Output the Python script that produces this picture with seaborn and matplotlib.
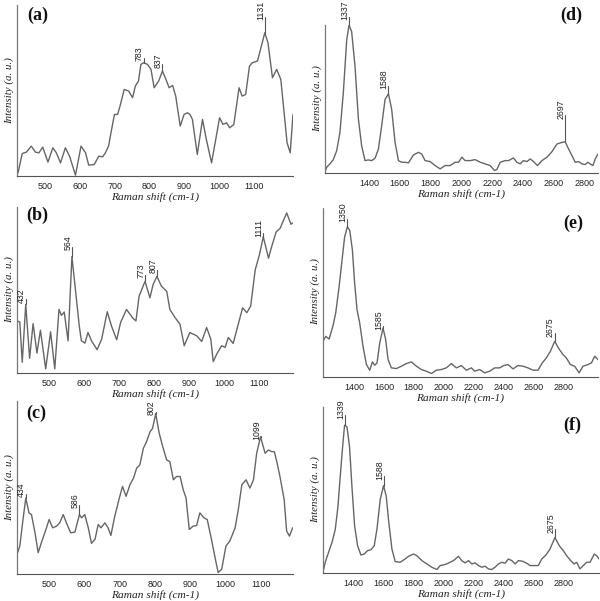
import matplotlib
matplotlib.use("Agg")
import matplotlib.pyplot as plt
import seaborn as sns
import numpy as np

# ---------------- data ----------------
# (a)
a_x = [422, 434, 446, 460, 472, 482, 493, 508, 522, 532, 544, 558, 570, 587, 603, 616, 625, 641, 654, 665,
       673, 682, 689, 699, 708, 715, 727, 740, 751, 759, 768, 775, 783, 794, 804, 813, 826, 837, 847, 856,
       866, 875, 888, 899, 909, 916, 923, 937, 952, 963, 978, 990, 1001, 1011, 1021, 1030, 1042, 1057, 1066, 1076,
       1087, 1095, 1110, 1131, 1140, 1153, 1165, 1177, 1195, 1204, 1212]
a_y = [1.4, 13, 13.8, 17.4, 13.8, 13.4, 16.8, 7.8, 16.4, 13.4, 7.4, 16.4, 11.4, 0, 17.4, 13.4, 6, 6.4, 11.4, 11,
       13.4, 17.4, 25.4, 36.4, 36.4, 41.4, 51.4, 50.4, 46.4, 53.4, 56.4, 66.4, 67.4, 66.4, 63.4, 52.4, 56.4, 62.4, 57.4, 52.4,
       53.8, 47.4, 29.4, 36.4, 37.4, 36.4, 33.4, 12.4, 33.4, 21.4, 7.4, 21.4, 34.4, 30.4, 31.4, 28.4, 30.4, 52.4, 47.4, 48.4,
       65.4, 67.4, 68.4, 85.4, 79.4, 58.4, 63.4, 57.4, 19.4, 13.4, 36.4]
a_peaks = [783, 837, 1131]
a_peak_tops = [70.4, 66.4, 95]
a_labels = ["783", "837", "1131"]

# (b)
b_x = [407, 415, 422, 432, 443, 453, 464, 474, 489, 503, 515, 527, 534, 542, 553, 564, 577, 585, 591, 601,
       610, 620, 636, 649, 665, 677, 692, 703, 720, 737, 747, 756, 773, 787, 796, 807, 820, 835, 844, 859,
       873, 885, 901, 921, 935, 949, 961, 968, 978, 992, 1002, 1011, 1025, 1037, 1052, 1064, 1075, 1088, 1100, 1111,
       1126, 1135, 1148, 1159, 1169, 1178, 1190, 1196]
b_y = [31, 30.4, 6, 41, 8.4, 29.4, 11.6, 25.4, 2, 24.4, 2, 38, 34.4, 36.4, 19, 70, 44, 28, 19, 17.6,
       24, 19, 13.6, 20, 36.6, 28, 19.6, 30, 38, 33, 31, 46, 55, 45, 53, 58, 52, 49, 38, 33,
       29, 16, 24, 22, 18.6, 27, 20, 6.4, 11, 16, 15, 21, 17.4, 27, 39, 36, 40, 62, 71, 82,
       69, 76, 85, 87, 92, 96.4, 89.6, 90.4]
b_peaks = [432, 564, 773, 807, 1111]
b_peak_tops = [44, 76, 59, 62, 84]
b_labels = ["432", "564", "773", "807", "1111"]

# (c)
c_x = [409, 417, 426, 434, 443, 450, 460, 469, 478, 491, 500, 510, 521, 530, 540, 549, 561, 573, 586, 592,
       601, 611, 620, 630, 639, 647, 658, 667, 675, 686, 699, 708, 718, 729, 739, 748, 757, 767, 776, 786,
       793, 802, 812, 822, 833, 842, 852, 861, 871, 880, 888, 897, 908, 918, 927, 939, 948, 960, 973, 979,
       989, 1001, 1012, 1027, 1036, 1046, 1058, 1069, 1079, 1088, 1099, 1112, 1121, 1131, 1138, 1145, 1154, 1166, 1173, 1181,
       1190]
c_y = [11.4, 16.4, 32.4, 45.4, 36.4, 35.4, 24.4, 12.4, 18.4, 26.4, 32.4, 27.4, 28.4, 30.4, 35.4, 30.4, 24.4, 24.8, 35.4, 33.4,
       35.4, 27.4, 18, 20.4, 29.4, 27.4, 30.4, 27.4, 22.8, 34.4, 45.4, 52.4, 46.4, 53.4, 57.4, 63.4, 65.4, 75.4, 79.4, 85.4,
       87.4, 96.4, 84.4, 76.4, 68.4, 67.4, 56.4, 58.4, 58.4, 50.4, 45.4, 26.4, 28.4, 28.8, 36.4, 33.4, 32.4, 20.4, 6.4, 0.4,
       2.4, 16.4, 19.4, 27.4, 38.4, 53.4, 56.4, 51.4, 56.4, 72.4, 82.4, 72.4, 74.4, 73.4, 73.4, 67.4, 58.4, 44.4, 25.4, 22.4,
       27.4]
c_peaks = [434, 586, 802, 1099]
c_peak_tops = [48, 41.4, 97.4, 82.8]
c_labels = ["434", "586", "802", "1099"]

# (d)
d_x = [1114, 1125, 1146, 1168, 1190, 1211, 1233, 1255, 1270, 1287, 1309, 1331, 1352, 1374, 1396, 1417, 1439, 1461, 1482, 1504,
       1526, 1547, 1569, 1591, 1612, 1634, 1656, 1688, 1721, 1742, 1764, 1797, 1829, 1862, 1894, 1927, 1959, 1981, 2003, 2024,
       2057, 2089, 2122, 2154, 2187, 2215, 2230, 2252, 2284, 2306, 2338, 2360, 2382, 2403, 2425, 2447, 2468, 2494, 2523, 2555,
       2588, 2620, 2653, 2674, 2696, 2718, 2739, 2761, 2783, 2804, 2820, 2836, 2854, 2869, 2887]
d_y = [0, 3, 5, 7.6, 13, 24, 48, 80, 89, 85, 64, 32, 16, 7, 7.4, 7, 8.4, 14, 28, 44,
       47.4, 38, 18, 7, 6, 6, 5.6, 10.4, 12, 11, 7, 6.4, 4, 2, 4, 4, 6, 6, 9, 7,
       7, 7.6, 6, 5, 4, 1, 1.6, 6, 7, 7, 8.6, 6, 5, 7, 6.4, 8, 6.4, 4, 7, 9,
       12.4, 17, 18, 18.4, 14, 10, 6, 6.4, 5, 4.6, 6, 5, 4, 8, 11]
d_peaks = [1270, 1526, 2674]
d_peak_tops = [94, 52.4, 34.4]
d_labels = ["1337", "1588", "2697"]

# (e)
e_x = [1192, 1210, 1233, 1248, 1259, 1277, 1300, 1322, 1337, 1355, 1371, 1389, 1404, 1420, 1438, 1460, 1483, 1505, 1523, 1538,
       1554, 1572, 1594, 1612, 1628, 1650, 1684, 1717, 1751, 1784, 1818, 1851, 1884, 1918, 1951, 1985, 2018, 2052, 2085, 2119,
       2152, 2186, 2208, 2242, 2275, 2309, 2342, 2376, 2402, 2431, 2465, 2498, 2532, 2565, 2599, 2632, 2661, 2688, 2715, 2744,
       2773, 2800, 2822, 2849, 2878, 2907, 2934, 2967, 2990, 3012, 3034]
e_y = [21, 24, 22.4, 27, 30.4, 38, 54, 72, 84, 90, 88, 76, 56, 40, 32, 18, 7, 3.6, 8.6, 6.6,
       8, 20, 29, 22, 10, 5, 4.6, 6, 7.6, 8.6, 6, 4, 3, 1.6, 3.6, 4, 5, 7.6, 5, 6.4,
       3.6, 5, 3, 4, 2, 3, 5, 5, 6.4, 7, 4.4, 6.4, 6, 5, 3.6, 3.6, 8, 11, 15, 21,
       16.4, 13, 11, 7, 6, 2, 6, 7, 8, 12, 10]
e_peaks = [1355, 1594, 2744]
e_peak_tops = [95, 30, 26]
e_labels = ["1350", "1585", "2675"]

# (f)
f_x = [1196, 1211, 1233, 1256, 1278, 1296, 1311, 1327, 1340, 1356, 1373, 1389, 1407, 1427, 1449, 1471, 1493, 1516, 1538, 1556,
       1578, 1600, 1618, 1633, 1656, 1678, 1711, 1744, 1767, 1800, 1822, 1856, 1889, 1922, 1956, 1978, 2000, 2022, 2044, 2067,
       2100, 2122, 2144, 2167, 2189, 2211, 2233, 2256, 2278, 2300, 2322, 2344, 2367, 2389, 2411, 2433, 2456, 2478, 2500, 2529,
       2556, 2578, 2611, 2633, 2656, 2684, 2711, 2744, 2773, 2800, 2822, 2849, 2871, 2889, 2911, 2933, 2956, 2978, 3007, 3022,
       3038]
f_y = [0, 6, 12, 18, 26, 40, 58, 76, 89, 88, 76, 52, 28, 16, 10.4, 11, 13, 13.6, 16, 26,
       44, 52.4, 46, 32, 14, 6.4, 6, 8, 9.6, 11, 10, 7, 5, 3, 1.6, 4, 4.4, 5, 6, 7,
       9.6, 7, 5.6, 7, 5, 5.6, 4, 3, 3.6, 2, 1.6, 3, 5, 6, 5.4, 8, 7, 5, 7, 6.6,
       5.4, 4, 4, 4, 8, 10.4, 14, 21, 16, 13, 10, 7, 5, 6, 2, 4, 6, 6, 11, 10,
       8]
f_peaks = [1340, 1600, 2744]
f_peak_tops = [95, 58, 26]
f_labels = ["1339", "1588", "2675"]

left_ticks = [500, 600, 700, 800, 900, 1000, 1100]
right_ticks = [1400, 1600, 1800, 2000, 2200, 2400, 2600, 2800]
panel_letters = ["(a)", "(b)", "(c)", "(d)", "(e)", "(f)"]
xlabel_text = "Raman shift (cm-1)"
ylabel_text = "Intensity (a. u.)"

# ---------------- styling / layout ----------------
sns.set_style("white")
plt.rcParams["font.family"] = ["Liberation Sans Narrow", "Liberation Sans", "DejaVu Sans"]

W, H = 600, 601
fig = plt.figure(figsize=(6.0, 6.01), dpi=100)


def px_axes(l, r, t, b):
    return [l / W, 1 - b / H, (r - l) / W, (b - t) / H]


panels = [
    dict(x=a_x, y=a_y, pk=a_peaks, pt=a_peak_tops, lab=a_labels, rect=px_axes(17, 293, 5, 176),
         xlim=(419, 1212), ylim=(-0.5, 102), ticks=left_ticks, letter=(27, 15)),
    dict(x=b_x, y=b_y, pk=b_peaks, pt=b_peak_tops, lab=b_labels, rect=px_axes(17, 293, 207, 373),
         xlim=(407, 1196), ylim=(-0.5, 100), ticks=left_ticks, letter=(26, 215)),
    dict(x=c_x, y=c_y, pk=c_peaks, pt=c_peak_tops, lab=c_labels, rect=px_axes(17, 293, 401, 574),
         xlim=(409, 1191), ylim=(-0.5, 104), ticks=left_ticks, letter=(26, 413)),
    dict(x=d_x, y=d_y, pk=d_peaks, pt=d_peak_tops, lab=d_labels, rect=px_axes(325, 598, 25, 173),
         xlim=(1114, 2887), ylim=(-0.5, 89), ticks=right_ticks, letter=(560, 15)),
    dict(x=e_x, y=e_y, pk=e_peaks, pt=e_peak_tops, lab=e_labels, rect=px_axes(323, 598, 207, 377),
         xlim=(1192, 3034), ylim=(-0.5, 102), ticks=right_ticks, letter=(563, 223)),
    dict(x=f_x, y=f_y, pk=f_peaks, pt=f_peak_tops, lab=f_labels, rect=px_axes(323, 599, 407, 573),
         xlim=(1196, 3038), ylim=(-0.5, 100), ticks=right_ticks, letter=(563, 425)),
]

line_color = "#666666"
serif_it = dict(family=["Liberation Serif", "DejaVu Serif"], style="italic", color="#222222")

for p, letter in zip(panels, panel_letters):
    ax = fig.add_axes(p["rect"])
    sns.lineplot(x=p["x"], y=p["y"], ax=ax, color=line_color, linewidth=1.0,
                 estimator=None, sort=False)
    # peak markers and labels
    for px_, top, lab in zip(p["pk"], p["pt"], p["lab"]):
        yv = p["y"][int(np.argmin(np.abs(np.array(p["x"]) - px_)))]
        ax.plot([px_, px_], [yv, top], color="#555555", lw=0.8, clip_on=False)
        ax.annotate(lab, xy=(px_, top), xytext=(-3.0, -2.5), textcoords="offset points",
                    rotation=90, ha="center", va="bottom", fontsize=6.3,
                    color="#222222", family=["Liberation Sans Narrow", "Liberation Sans"],
                    annotation_clip=False)
    ax.set_xlim(*p["xlim"])
    ax.set_ylim(*p["ylim"])
    ax.set_xticks(p["ticks"])
    ax.set_xticklabels([str(t) for t in p["ticks"]], fontsize=6.5, color="#222222")
    ax.set_yticks([])
    ax.tick_params(axis="x", length=2, width=0.6, color="#555555", pad=2, direction="out")
    for side in ("top", "right"):
        ax.spines[side].set_visible(False)
    ax.spines["bottom"].set_color("#555555")
    ax.spines["bottom"].set_linewidth(0.8)
    ax.spines["left"].set_color("#777777")
    ax.spines["left"].set_linewidth(0.9)
    ax.spines["left"].set_linestyle((0, (1, 1)))
    ax.set_xlabel(xlabel_text, fontsize=8.2, labelpad=1, **serif_it)
    ax.set_ylabel(ylabel_text, fontsize=7.8, labelpad=2, **serif_it)
    ax.patch.set_alpha(0)
    lx, ly = p["letter"]
    fig.text(lx / W, 1 - ly / H, letter, ha="left", va="center", fontsize=13,
             fontweight="bold", family=["Liberation Serif", "DejaVu Serif"], color="#111111")

fig.savefig("out.png", dpi=100)
